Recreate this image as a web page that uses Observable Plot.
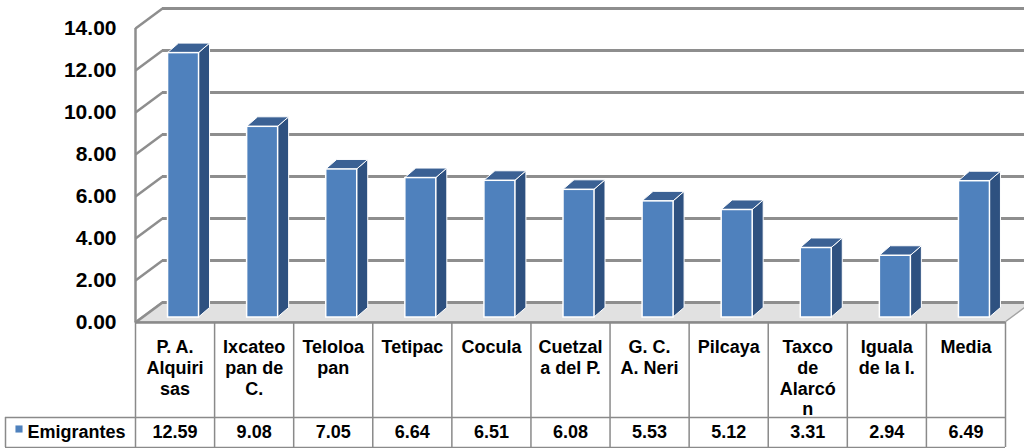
<!DOCTYPE html>
<html><head><meta charset="utf-8">
<script src="https://cdn.jsdelivr.net/npm/d3@7"></script>
<script src="https://cdn.jsdelivr.net/npm/@observablehq/plot@0.6"></script>
<style>body{margin:0;background:#fff}</style>
</head><body><div id="chart"></div>
<script>
// ---- data ----
const categoryLabels = ["P. A.\nAlquiri\nsas", "Ixcateo\npan de\nC.", "Teloloa\npan", "Tetipac", "Cocula",
  "Cuetzal\na del P.", "G. C.\nA. Neri", "Pilcaya", "Taxco\nde\nAlarcó\nn", "Iguala\nde la I.", "Media"];
const emigrantes = [12.59, 9.08, 7.05, 6.64, 6.51, 6.08, 5.53, 5.12, 3.31, 2.94, 6.49];
const yTicks = [0, 2, 4, 6, 8, 10, 12, 14];
const seriesName = "Emigrantes";

// ---- geometry helpers (pixel -> data units) ----
const W = 1024, H = 448, ML = 135, MR = 19, MT = 28, MB = 126;
const PX_X = (W - ML - MR) / categoryLabels.length;
const PX_Y = (H - MB - MT) / 14;
const px2x = p => p / PX_X, px2y = p => p / PX_Y;
const WALL_DX = px2x(27), WALL_DY = px2y(20);
const BAR_SHIFT = px2x(8.5), BAR_HALF = px2x(15.5), BAR_BASE = px2y(5);
const BAR_DX = px2x(11), BAR_DY = px2y(9.5);
const X0 = -0.5, X1 = categoryLabels.length - 0.5;
const ROW1 = -px2y(95), ROW2 = -px2y(125);
const XLEG = X0 - px2x(130);

const data = categoryLabels.map((label, i) => ({i, label, value: emigrantes[i]}));
const left = d => d.i + BAR_SHIFT - BAR_HALF, right = d => d.i + BAR_SHIFT + BAR_HALF;
const sideData = data.flatMap(d => [
  {i: d.i, x: right(d), y1: BAR_BASE, y2: d.value + BAR_BASE},
  {i: d.i, x: right(d) + BAR_DX, y1: BAR_BASE + BAR_DY, y2: d.value + BAR_BASE + BAR_DY}
]);
const topData = data.flatMap(d => [
  {i: d.i, y: d.value + BAR_BASE, x1: left(d), x2: right(d)},
  {i: d.i, y: d.value + BAR_BASE + BAR_DY, x1: left(d) + BAR_DX, x2: right(d) + BAR_DX}
]);
const floorData = [
  {y: 0, x1: X0, x2: X1},
  {y: WALL_DY, x1: X0 + WALL_DX, x2: X1 + WALL_DX}
];
const borders = d3.range(categoryLabels.length + 1).map(k => k - 0.5);

const FRONT = "#4f81bd", SIDE = "#2e5180", TOP = "#3b6194", GRID = "#8e8e8e", LINE = "#8a8a8a";

const chart = Plot.plot({
  width: W, height: H,
  marginLeft: ML, marginRight: MR, marginTop: MT, marginBottom: MB,
  x: {domain: [X0, X1], axis: null},
  y: {domain: [0, 14]},
  style: {fontFamily: "'Liberation Sans', Arial, sans-serif", fontWeight: "bold", fontSize: "18px", background: "white", color: "black", overflow: "visible"},
  marks: [
    // floor
    Plot.area(floorData, {y1: "y", x1: "x1", x2: "x2", fill: "#e1e1e1", stroke: "#a3a3a3", strokeWidth: 1.5}),
    // back wall gridlines
    Plot.ruleY(yTicks, {y: t => t + WALL_DY, x1: () => X0 + WALL_DX, x2: () => X1 + 1, stroke: GRID, strokeWidth: 3.2}),
    // left wall
    Plot.link(yTicks, {x1: () => X0, y1: t => t, x2: () => X0 + WALL_DX, y2: t => t + WALL_DY, stroke: GRID, strokeWidth: 2.5}),
    Plot.ruleX([X0], {x: d => d, y1: () => 0, y2: () => 14, stroke: GRID, strokeWidth: 2.5}),
    // bars (3D)
    Plot.area(sideData, {x1: "x", y1: "y1", y2: "y2", z: "i", fill: SIDE, stroke: "white", strokeWidth: 1}),
    Plot.area(topData, {y1: "y", x1: "x1", x2: "x2", z: "i", fill: TOP, stroke: "white", strokeWidth: 1}),
    Plot.rect(data, {x1: left, x2: right, y1: () => BAR_BASE, y2: d => d.value + BAR_BASE, fill: FRONT, stroke: "white", strokeWidth: 1.5}),
    // y axis
    Plot.axisY(yTicks, {tickSize: 0, tickPadding: 19, tickFormat: d => d.toFixed(2), fontSize: 21, fontWeight: "bold", label: null}),
    // data table
    Plot.ruleY([0], {y: d => d, x1: () => X0, x2: () => X1, stroke: LINE, strokeWidth: 2.5}),
    Plot.ruleY([ROW1, ROW2], {y: d => d, x1: () => XLEG, x2: () => X1, stroke: LINE, strokeWidth: 1.5}),
    Plot.ruleX(borders, {x: d => d, y1: () => 0, y2: () => ROW2, stroke: LINE, strokeWidth: 1.5}),
    Plot.ruleX([XLEG], {x: d => d, y1: () => ROW1, y2: () => ROW2, stroke: LINE, strokeWidth: 1.5}),
    Plot.text(data, {x: "i", y: () => 0, text: "label", lineAnchor: "top", dy: 16, lineHeight: 1.15, fontSize: 18, fontWeight: "bold", fill: "black"}),
    Plot.text(data, {x: "i", y: () => ROW1, text: d => d.value.toFixed(2), dy: 15, fontSize: 18, fontWeight: "bold", fill: "black"}),
    Plot.dot([seriesName], {x: () => X0, y: () => ROW1, dx: -116.5, dy: 11.5, symbol: "square", r: 4, fill: FRONT, stroke: "none"}),
    Plot.text([seriesName], {x: () => X0, y: () => ROW1, dx: -108, dy: 15, text: d => d, textAnchor: "start", fontSize: 18, fontWeight: "bold", fill: "black"})
  ]
});
document.getElementById("chart").appendChild(chart);
</script>
</body></html>
